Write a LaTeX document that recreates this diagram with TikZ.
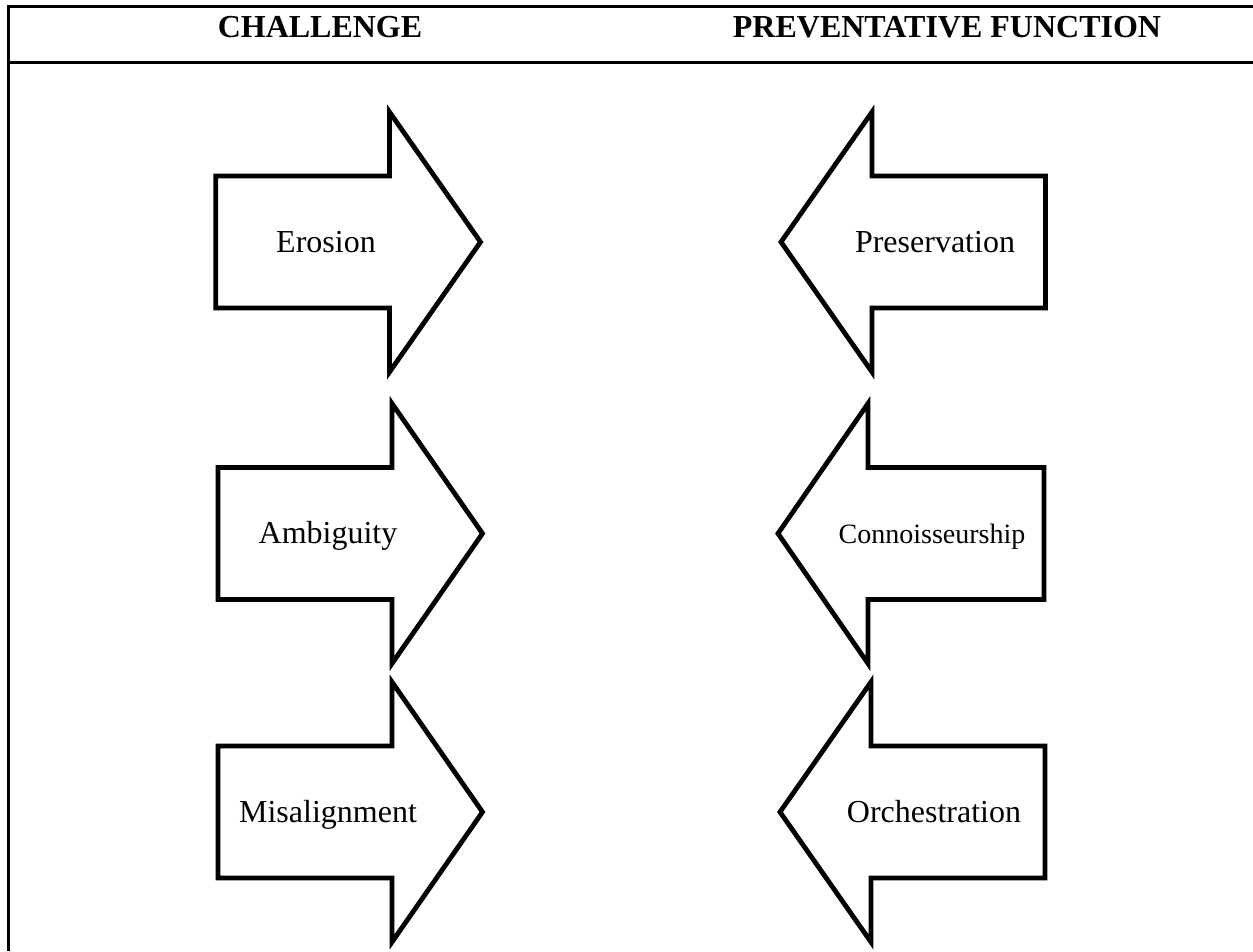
\documentclass[tikz,border=0pt]{standalone}
\usepackage{fontspec}
\setmainfont{Liberation Serif}
% Block arrow pointing right: #1 left edge, #2 shaft end, #3 tip, #4 centre line
\newcommand{\rightblock}[4]{%
  \draw[blockarrow] (#1,#4-66) -- (#2,#4-66) -- (#2,#4-130) -- (#3,#4)
    -- (#2,#4+130) -- (#2,#4+66) -- (#1,#4+66) -- cycle;}
% Block arrow pointing left: #1 tip, #2 shaft start, #3 right edge, #4 centre line
\newcommand{\leftblock}[4]{%
  \draw[blockarrow] (#3,#4-66) -- (#2,#4-66) -- (#2,#4-130) -- (#1,#4)
    -- (#2,#4+130) -- (#2,#4+66) -- (#3,#4+66) -- cycle;}
\begin{document}
\begin{tikzpicture}[x=1pt,y=-1pt,
  tableline/.style={line width=2.7pt},
  blockarrow/.style={line width=4.8pt, line join=miter, fill=white},
  headtext/.style={font=\fontsize{32}{38}\selectfont\bfseries, anchor=base, inner sep=0pt},
  celltext/.style={font=\fontsize{32}{38}\selectfont, anchor=base, inner sep=0pt},
  smalltext/.style={font=\fontsize{28}{34}\selectfont, anchor=base, inner sep=0pt}]
\useasboundingbox[fill=white] (0,0) rectangle (1253,951);

% table frame
\draw[tableline] (1253,6.2) -- (8.7,6.2) -- (8.7,951);
\draw[tableline] (8.7,62.8) -- (1253,62.8);

% column headings
\node[headtext] (hchal) at (320,37.3) {CHALLENGE};
\node[headtext] (hprev) at (947,37.3) {PREVENTATIVE FUNCTION};

% challenges
\rightblock{215.8}{389.5}{480.5}{242}
\rightblock{218}{392}{482.5}{533.5}
\rightblock{218}{392}{482.5}{812}
\node[celltext] (erosion) at (326,252) {Erosion};
\node[celltext] (ambig) at (328,543) {Ambiguity};
\node[celltext] (misal) at (328,822) {Misalignment};

% preventative functions
\leftblock{781}{872}{1045.5}{242}
\leftblock{778}{868}{1044}{533.5}
\leftblock{780}{871}{1045}{812}
\node[celltext] (preserv) at (935,252) {Preservation};
\node[smalltext] (connois) at (932,543) {Connoisseurship};
\node[celltext] (orch) at (934,822) {Orchestration};
\end{tikzpicture}
\end{document}
